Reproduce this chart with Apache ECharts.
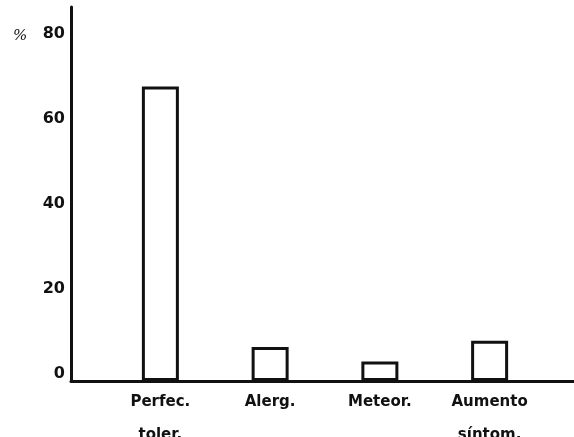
<!DOCTYPE html>
<html>
<head>
<meta charset="utf-8">
<script src="https://cdn.jsdelivr.net/npm/echarts@6/dist/echarts.min.js"></script>
<style>
html,body{margin:0;padding:0;background:#fff;}
#chart{width:574px;height:437px;}
</style>
</head>
<body>
<div id="chart"></div>
<script>
var categories = ['Perfec.\ntoler.', 'Alerg.', 'Meteor.', 'Aumento\nsíntom.'];
var values = [69.3, 8.0, 4.6, 9.5];
var yTicks = [0, 20, 40, 60, 80];
var yUnit = '%';

var ink = '#111';
var chart = echarts.init(document.getElementById('chart'), null, {renderer: 'canvas'});
chart.setOption({
  backgroundColor: '#fff',
  animation: false,
  grid: [
    {left: 71, right: 0, top: 7, bottom: 56, containLabel: false, outerBoundsMode: 'none'},
    {left: 105.5, right: 29.5, top: 7, bottom: 56, containLabel: false, outerBoundsMode: 'none'}
  ],
  xAxis: [
    {gridIndex: 0, type: 'value', min: 0, max: 1,
     axisLine: {show: true, lineStyle: {color: ink, width: 3}},
     axisTick: {show: false}, axisLabel: {show: false}, splitLine: {show: false}},
    {gridIndex: 1, type: 'category', data: categories,
     axisLine: {show: false}, axisTick: {show: false}, splitLine: {show: false},
     axisLabel: {color: ink, fontFamily: 'DejaVu Sans', fontWeight: 'bold', fontSize: 15,
                 lineHeight: 33, margin: 5, interval: 0}}
  ],
  yAxis: [
    {gridIndex: 0, type: 'value', min: 0, max: 88, interval: 20,
     axisLine: {show: true, lineStyle: {color: ink, width: 3}},
     axisTick: {show: false}, splitLine: {show: false},
     axisLabel: {color: ink, fontFamily: 'DejaVu Sans', fontWeight: 'bold', fontSize: 16,
                 margin: 6, verticalAlign: 'bottom', lineHeight: 14,
                 formatter: function (v) { return yTicks.indexOf(v) >= 0 ? String(v) : ''; }}},
    {gridIndex: 1, type: 'value', min: 0, max: 88, show: false}
  ],
  graphic: [
    {type: 'text', left: 13, top: 29,
     style: {text: yUnit, fill: ink, font: 'italic 15px "DejaVu Serif"'}}
  ],
  series: [
    {type: 'bar', xAxisIndex: 1, yAxisIndex: 1, data: values, barWidth: 37,
     itemStyle: {color: '#fff', borderColor: ink, borderWidth: 3}}
  ]
});
</script>
</body>
</html>
